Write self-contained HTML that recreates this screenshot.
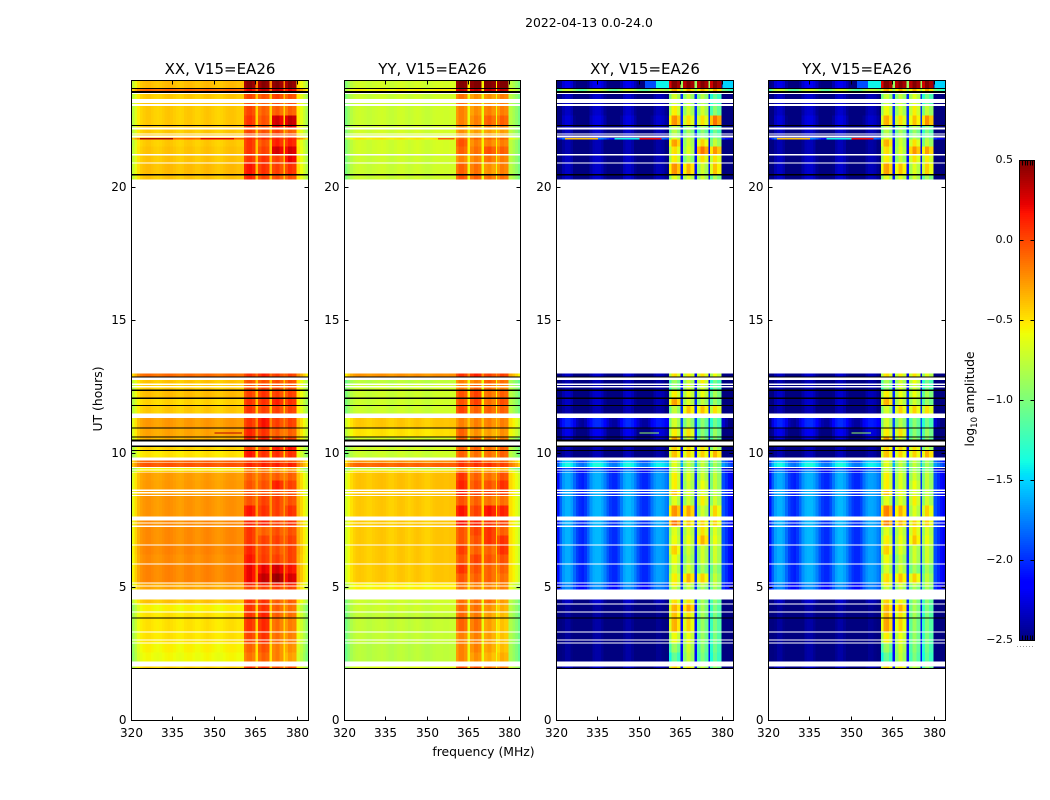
<!DOCTYPE html>
<html>
<head>
<meta charset="utf-8">
<title>2022-04-13 0.0-24.0</title>
<style>
html,body{margin:0;padding:0;background:#fff;}
svg{display:block;}
text{font-family:"DejaVu Sans","Liberation Sans",sans-serif;fill:#000;}
</style>
</head>
<body>
<svg id="fig" width="1050" height="800" viewBox="0 0 1050 800" xmlns="http://www.w3.org/2000/svg">
<rect x="0" y="0" width="1050" height="800" fill="#fff"/>
<text x="589" y="27" font-size="12.4" text-anchor="middle">2022-04-13 0.0-24.0</text>
<text x="0" y="0" font-size="12.4" text-anchor="middle" transform="translate(102,399) rotate(-90)">UT (hours)</text>
<text x="483.5" y="756" font-size="12.4" text-anchor="middle">frequency (MHz)</text>
<text x="0" y="0" font-size="12.2" text-anchor="middle" transform="translate(974,399) rotate(-90)">log<tspan font-size="8.5" dy="3">10</tspan><tspan dy="-3"> amplitude</tspan></text>
<g id="panels"></g>
<g id="colorbar"></g>
</svg>
<script>
var panelNames = ['XX, V15=EA26', 'YY, V15=EA26', 'XY, V15=EA26', 'YX, V15=EA26'];
var xTicks = [320, 335, 350, 365, 380];
var yTicks = [0, 5, 10, 15, 20];
var colorTicks = [0.5, 0.0, -0.5, -1.0, -1.5, -2.0, -2.5];

// frequency bin edges (MHz)
var freqEdges = [320,321,322,323,324,325,326,327,328,329,330,331,332,333,334,335,336,337,338,339,340,341,342,343,344,345,346,347,348,349,350,351,352,353,354,355,356,357,358,359,360,360.6,361.5,362.5,363.5,364.8,365.7,367,368.5,369.9,370.8,372,373.5,375,375.5,376.5,378,379.6,381,382,383,384];
// which level each frequency bin reads: 0 low band, 1 gap, 2-5 high bands
var binKinds = [0,0,0,0,0,0,0,0,0,0,0,0,0,0,0,0,0,0,0,0,0,0,0,0,0,0,0,0,0,0,0,0,0,0,0,0,0,0,0,0,0,2,2,2,2,1,3,3,3,1,4,4,4,1,5,5,5,0,0,0,0];

// spectral shape offsets (log10 amplitude) per polarisation
var xxShape = [-.35,-.22,-.1,-.03,0,.02,.02,0,-.02,-.03,-.02,0,.02,.03,.02,0,-.02,-.03,-.02,.01,.02,.02,0,-.02,-.02,0,.02,.03,.02,0,-.02,-.03,-.02,0,.02,.03,.03,.02,0,0,0,-.05,.02,.03,-.03,0,-.04,.04,0,0,0,.05,-.04,0,-.06,.04,0,-.1,-.2,-.3,-.42];
var yyShape = [-.28,-.16,-.07,-.02,.01,.02,.01,0,-.02,-.02,0,.01,.02,.03,.02,0,-.02,-.02,0,.02,.03,.02,0,-.02,0,.02,.03,.02,0,-.02,-.02,0,.02,.03,.03,.03,.02,.02,.03,.03,.03,-.06,.03,.03,-.03,0,-.04,.04,0,0,0,.04,-.04,0,-.06,.04,0,-.06,-.13,-.2,-.3];
var xyShape = [-.3,-.05,.12,.18,.18,.12,-.02,-.15,-.22,-.25,-.18,-.05,.1,.18,.2,.2,.15,.05,-.08,-.18,-.22,-.22,-.12,.02,.15,.2,.2,.15,.05,-.08,-.18,-.22,-.22,-.15,0,.1,.15,.15,.12,.05,0,-.25,.05,.08,-.1,0,-.15,.07,-.1,0,-.15,.07,-.1,0,-.2,.07,-.1,-.1,-.2,-.3,-.4];
var yxShape = [-.3,-.05,.12,.18,.18,.12,-.02,-.15,-.22,-.25,-.18,-.05,.1,.18,.2,.2,.15,.05,-.08,-.18,-.22,-.22,-.12,.02,.15,.2,.2,.15,.05,-.08,-.18,-.22,-.22,-.15,0,.1,.15,.15,.12,.05,0,-.25,.05,.08,-.1,0,-.15,.07,-.1,0,-.15,.07,-.1,0,-.2,.07,-.1,-.1,-.2,-.3,-.4];

// observation intervals [start hour, end hour]
var rowSpans = [
[24.00,23.70],[23.68,23.61],[23.49,23.31],[23.15,23.13],[23.05,22.69],[22.69,22.31],[22.29,22.23],[22.17,22.02],[21.98,21.93],[21.87,21.84],
[21.84,21.79],[21.79,21.53],[21.53,21.25],[21.18,20.93],[20.89,20.50],[20.44,20.29],[13.01,12.90],[12.76,12.63],[12.59,12.54],[12.49,12.41],
[12.36,12.11],[12.05,11.84],[11.80,11.51],[11.34,10.99],[10.95,10.65],[10.61,10.54],[10.25,10.14],[10.10,9.86],[9.75,9.68],[9.65,9.50],
[9.46,9.41],[9.38,9.32],[9.30,9.00],[9.00,8.66],[8.61,8.56],[8.52,8.45],[8.41,8.06],[8.06,7.65],[7.50,7.43],[7.39,7.32],
[7.25,6.94],[6.94,6.60],[6.56,6.22],[6.22,5.89],[5.85,5.51],[5.51,5.18],[5.14,5.06],[5.03,4.91],[4.54,4.38],[4.35,4.09],
[4.05,3.86],[3.83,3.34],[3.30,3.04],[3.00,2.93],[2.89,2.55],[2.55,2.21],[2.03,1.96]];

// flagged (black) intervals [start hour, end hour]
var flagSpans = [[23.72,23.68],[23.61,23.53],[22.33,22.29],[20.50,20.44],[12.90,12.87],[12.41,12.36],[12.11,12.05],[11.84,11.80],[10.99,10.95],[10.65,10.61],[10.54,10.46],[10.32,10.25],[10.14,10.10],[3.86,3.83],[1.96,1.93]];

// per interval levels: [low, gap, band1, band2, band3, band4]
var xxLevels = [
[-.38,-.2,.45,.45,.45,.45],[-.1,-.1,.2,.3,.3,.2],[-.42,-.4,0,-.05,0,-.05],[-.4,-.4,-.05,-.1,-.05,-.05],[-.42,-.45,0,-.1,-.1,-.1],[-.42,-.45,.05,-.05,.25,.3],[-.4,-.4,.05,-.05,.15,.2],[-.42,-.4,0,-.05,0,-.1],[-.4,-.4,0,0,0,0],[-.42,-.4,.05,0,.05,.05],
[-.05,-.1,.1,.1,.1,.1],[-.42,-.4,.05,-.05,.1,.1],[-.4,-.4,.05,0,.25,.25],[-.4,-.4,.05,.05,0,.2],[-.38,-.38,.15,.05,0,.05],[-.4,-.4,.1,0,-.05,-.05],[-.12,-.1,.05,.1,0,0],[-.4,-.4,-.05,-.05,-.05,-.05],[-.42,-.4,-.05,0,-.05,-.05],[-.42,-.4,-.05,0,-.05,-.05],
[-.38,-.38,0,.05,0,0],[-.45,-.4,.05,.05,.1,.05],[-.42,-.4,.05,0,0,0],[-.27,-.2,.05,.15,0,0],[-.3,-.2,.1,.05,-.1,-.1],[-.35,-.3,.1,.1,0,0],[-.45,-.4,0,-.05,.1,.15],[-.5,-.45,.15,.05,.05,.05],[-.1,-.05,0,.05,0,-.05],[-.05,0,.1,.1,.1,.1],
[-.55,-.5,-.2,-.2,-.3,-.3],[-.45,-.4,-.2,-.2,-.25,-.25],[-.28,-.25,-.1,-.1,-.1,-.1],[-.27,-.25,-.05,-.05,.1,0],[-.28,-.25,-.05,-.05,-.05,-.05],[-.28,-.25,-.05,-.05,-.05,-.05],[-.25,-.25,-.05,0,0,-.05],[-.25,-.25,.15,.05,0,.05],[-.22,-.2,.1,.1,0,.05],[-.22,-.2,.1,.1,0,.05],
[-.22,-.2,.05,-.1,-.05,-.05],[-.22,-.2,.05,0,0,0],[-.2,-.2,.1,0,-.05,0],[-.22,-.2,.15,.02,0,0],[-.2,-.2,.2,.2,.25,.15],[-.2,-.2,.2,.3,.4,.25],[-.3,-.3,.1,.1,.1,.1],[-.3,-.3,0,0,0,0],[-.4,-.35,.05,.05,-.1,-.1],[-.55,-.45,.05,.05,-.1,-.15],
[-.5,-.45,.05,.1,-.1,-.15],[-.5,-.45,.05,.08,-.15,-.2],[-.5,-.45,0,.05,-.15,-.2],[-.5,-.45,0,.05,-.15,-.2],[-.55,-.5,-.1,-.05,-.2,-.25],[-.58,-.5,-.15,-.1,-.2,-.3],[-.45,-.4,.05,.05,-.05,-.05]];

var yyLevels = [
[-.7,-.55,.5,.5,.5,.5],[-.55,-.5,.3,.3,.3,.3],[-.72,-.6,-.15,-.25,-.25,-.2],[-.72,-.6,-.15,-.25,-.25,-.2],[-.72,-.6,-.2,-.25,-.2,-.2],[-.72,-.6,-.2,-.2,-.1,-.1],[-.7,-.6,-.25,-.25,-.2,-.2],[-.7,-.6,-.25,-.3,-.3,-.3],[-.7,-.6,-.25,-.3,-.3,-.3],[-.7,-.6,-.25,-.3,-.3,-.3],
[-.5,-.5,-.1,-.1,-.1,-.1],[-.7,-.55,-.05,-.2,-.2,-.2],[-.7,-.55,-.1,-.15,-.05,-.1],[-.72,-.6,-.2,-.2,-.15,-.2],[-.72,-.6,-.1,-.15,-.25,-.2],[-.72,-.6,-.05,-.1,-.15,-.15],[-.25,-.2,.05,.1,0,0],[-.78,-.6,-.2,-.2,-.1,-.15],[-.72,-.6,-.2,-.1,-.15,-.2],[-.72,-.6,-.2,-.1,-.15,-.2],
[-.72,-.55,-.05,0,-.15,-.1],[-.72,-.55,-.05,0,-.15,-.05],[-.72,-.6,0,-.1,-.1,-.1],[-.42,-.4,-.2,-.2,-.2,-.2],[-.5,-.45,-.1,-.25,-.3,-.25],[-.7,-.6,-.1,-.15,-.2,-.2],[-.7,-.55,-.1,-.1,-.15,-.1],[-.72,-.6,-.1,-.15,-.15,-.1],[-.25,-.2,0,.05,-.1,-.1],[-.1,-.05,.05,.05,.05,0],
[-.8,-.6,-.3,-.4,-.4,-.4],[-.5,-.5,-.25,-.25,-.3,-.3],[-.4,-.4,.05,-.1,-.15,-.05],[-.4,-.4,.1,-.05,-.05,.05],[-.4,-.4,.1,0,0,0],[-.4,-.4,.1,0,0,0],[-.42,-.45,-.05,-.1,-.15,-.15],[-.42,-.45,.15,0,.15,.1],[-.42,-.4,.15,.1,.05,0],[-.42,-.4,.15,.1,.05,0],
[-.42,-.42,-.05,0,.05,-.1],[-.42,-.42,-.05,-.05,.05,.05],[-.42,-.42,.02,-.1,-.1,.05],[-.42,-.42,-.05,0,-.05,-.05],[-.42,-.42,.05,-.05,-.1,-.1],[-.42,-.42,-.05,-.1,-.1,-.15],[-.55,-.5,-.15,-.2,-.2,-.2],[-.55,-.5,-.15,-.2,-.2,-.2],[-.72,-.6,-.15,-.15,-.15,-.3],[-.72,-.6,-.12,-.15,-.25,-.35],
[-.75,-.6,-.12,-.18,-.3,-.4],[-.75,-.6,-.1,-.15,-.3,-.42],[-.75,-.6,-.2,-.2,-.3,-.42],[-.75,-.6,-.2,-.2,-.3,-.42],[-.78,-.6,-.2,-.2,-.3,-.4],[-.78,-.6,-.2,-.25,-.35,-.35],[-.65,-.55,-.05,-.05,-.15,-.2]];

var xyLevels = [
[-2.4,-.9,.5,.5,.5,.5],[-.9,-.9,-.4,-.4,-.4,-.4],[-2.5,-2,-.75,-.8,-.85,-1.15],[-2.5,-2,-.75,-.8,-.85,-1.15],[-2.5,-2,-.6,-.75,-.75,-1],[-2.45,-2,-.3,-.55,-.55,-.2],[-2.5,-2,-.8,-.9,-.9,-1.1],[-2.5,-2,-.85,-.9,-1,-1.1],[-2.5,-2,-.85,-.9,-1,-1.1],[-2.5,-2,-.85,-.9,-1,-1.1],
[-1.9,-2,-.7,-.8,-.8,-.9],[-2.55,-2.2,-.35,-.75,-.5,-.8],[-2.55,-2.2,-.55,-.7,-.2,-.3],[-2.5,-2.1,-.6,-.85,-.55,-.55],[-2.5,-2.1,-.3,-.4,-.75,-.45],[-2.5,-2.1,-.7,-.7,-.75,-.9],[-2.5,-2.2,-.55,-.6,-.55,-.65],[-2.55,-2.1,-.95,-.75,-.6,-1.1],[-2.55,-2.1,-1,-.75,-.75,-1.1],[-2.55,-2.1,-1,-.75,-.75,-1.1],
[-2.5,-2,-.6,-.65,-.65,-.9],[-2.5,-2,-.35,-.7,-.8,-.95],[-2.55,-2,-.8,-.45,-.45,-.55],[-2.2,-1.9,-.75,-.85,-1,-1.1],[-2.4,-2,-.6,-.55,-1,-.95],[-2.45,-2,-.35,-.75,-.95,-1],[-2.55,-2.2,-.5,-.5,-.55,-.8],[-2.55,-2.1,-.45,-.5,-.5,-.4],[-1.7,-1.7,-.7,-.8,-.8,-.9],[-1.55,-1.6,-.7,-.8,-.8,-.9],
[-2.1,-1.9,-.8,-.9,-.9,-1],[-1.9,-1.9,-.75,-.8,-.85,-.9],[-1.8,-2,-.6,-.7,-.75,-.8],[-1.8,-2,-.6,-.75,-.65,-.8],[-1.8,-2,-.45,-.7,-.7,-.8],[-1.8,-2,-.45,-.7,-.7,-.8],[-1.78,-2,-.7,-.75,-.6,-.75],[-1.78,-2,-.3,-.35,-.75,-.5],[-1.78,-2,-.2,-.45,-.5,-.5],[-1.78,-2,-.2,-.45,-.5,-.5],
[-1.78,-2,-.7,-.7,-.55,-.7],[-1.78,-2,-.65,-.65,-.4,-.65],[-1.8,-2,-.5,-.75,-.75,-.75],[-1.8,-2,-.65,-.8,-.75,-.75],[-1.8,-2,-.75,-.75,-.9,-.9],[-1.8,-2,-.6,-.4,-.5,-.8],[-1.9,-2,-.6,-.7,-.8,-.8],[-1.9,-2,-.8,-.8,-.9,-.9],[-2.5,-2,-.55,-.55,-.9,-1],[-2.6,-2.1,-.4,-.35,-.9,-1.05],
[-2.6,-2.1,-.45,-.55,-.9,-1.05],[-2.6,-2.1,-.4,-.5,-.95,-1.05],[-2.6,-2.1,-.65,-.65,-.95,-1.05],[-2.6,-2.1,-.65,-.65,-.95,-1.05],[-2.6,-2.1,-.95,-.75,-1,-1.1],[-2.6,-2.1,-1.15,-.8,-1.05,-1.15],[-2.5,-2.1,-.5,-.55,-.8,-.95]];

var yxLevels = [
[-2.4,-.9,.5,.5,.5,.5],[-.9,-.9,-.4,-.4,-.4,-.4],[-2.5,-2,-.8,-.8,-.7,-1.1],[-2.5,-2,-.8,-.8,-.7,-1.1],[-2.5,-2,-.65,-.75,-.6,-.8],[-2.45,-2,-.4,-.55,-.45,-.3],[-2.5,-2,-.8,-.9,-.85,-1],[-2.5,-2,-.85,-.9,-.95,-1.05],[-2.5,-2,-.85,-.9,-.95,-1.05],[-2.5,-2,-.85,-.9,-.95,-1.05],
[-1.9,-2,-.7,-.8,-.8,-.9],[-2.55,-2.2,-.4,-.75,-.55,-.8],[-2.55,-2.2,-.55,-.7,-.3,-.35],[-2.5,-2.1,-.6,-.8,-.55,-.6],[-2.5,-2.1,-.35,-.45,-.7,-.5],[-2.5,-2.1,-.7,-.7,-.75,-.9],[-2.5,-2.2,-.55,-.6,-.55,-.7],[-2.55,-2.1,-.9,-.75,-.65,-1.1],[-2.55,-2.1,-1,-.75,-.75,-1.1],[-2.55,-2.1,-1,-.75,-.75,-1.1],
[-2.5,-2,-.6,-.65,-.65,-.9],[-2.5,-2,-.4,-.7,-.75,-.95],[-2.55,-2,-.75,-.5,-.5,-.55],[-2.2,-1.9,-.75,-.85,-1,-1.1],[-2.4,-2,-.6,-.55,-1,-.95],[-2.45,-2,-.35,-.75,-.95,-1],[-2.55,-2.2,-.5,-.5,-.55,-.8],[-2.55,-2.1,-.45,-.5,-.5,-.4],[-1.7,-1.7,-.7,-.8,-.8,-.9],[-1.55,-1.6,-.7,-.8,-.8,-.9],
[-2.1,-1.9,-.8,-.9,-.9,-1],[-1.9,-1.9,-.75,-.8,-.85,-.9],[-1.8,-2,-.6,-.7,-.75,-.8],[-1.8,-2,-.6,-.7,-.65,-.8],[-1.8,-2,-.45,-.65,-.7,-.8],[-1.8,-2,-.45,-.65,-.7,-.8],[-1.78,-2,-.7,-.7,-.6,-.75],[-1.78,-2,-.25,-.4,-.7,-.5],[-1.78,-2,-.25,-.4,-.5,-.5],[-1.78,-2,-.25,-.4,-.5,-.5],
[-1.78,-2,-.7,-.7,-.55,-.7],[-1.78,-2,-.6,-.65,-.45,-.65],[-1.8,-2,-.5,-.7,-.75,-.75],[-1.8,-2,-.65,-.8,-.75,-.75],[-1.8,-2,-.75,-.75,-.9,-.9],[-1.8,-2,-.55,-.45,-.5,-.8],[-1.9,-2,-.6,-.7,-.8,-.8],[-1.9,-2,-.8,-.8,-.9,-.9],[-2.5,-2,-.5,-.6,-.9,-1],[-2.6,-2.1,-.4,-.4,-.9,-1.05],
[-2.6,-2.1,-.4,-.55,-.9,-1.05],[-2.6,-2.1,-.35,-.5,-.95,-1.05],[-2.6,-2.1,-.6,-.65,-.95,-1.05],[-2.6,-2.1,-.6,-.65,-.95,-1.05],[-2.6,-2.1,-.95,-.75,-1,-1.1],[-2.6,-2.1,-1.15,-.8,-1.05,-1.15],[-2.5,-2.1,-.5,-.55,-.8,-.95]];

// narrow interference segments: [panel index, start hour, end hour, start MHz, end MHz, value]
var rfiSegments = [
[0,21.84,21.79,323,335,.38],[0,21.84,21.79,345,357,.25],[0,10.80,10.76,350,360,.35],
[1,21.84,21.79,354,360,-.05],
[2,21.84,21.79,323,335,-.4],[2,21.84,21.79,341,350,-1.4],[2,21.84,21.79,350,358,.2],[2,10.80,10.76,350,357,-.9],
[3,21.84,21.79,323,335,-.4],[3,21.84,21.79,341,350,-1.4],[3,21.84,21.79,350,358,.2],[3,10.80,10.76,350,357,-.9],
[2,24,23.7,352,356,-1.9],[2,24,23.7,356,360.6,-1.4],[2,24,23.7,380,384,-1.5],
[3,24,23.7,352,356,-1.9],[3,24,23.7,356,360.6,-1.4],[3,24,23.7,380,384,-1.5]];

var shapes = [xxShape, yyShape, xyShape, yxShape];
var levels = [xxLevels, yyLevels, xyLevels, yxLevels];
var panelBoxes = [[131.5,308.5],[344.5,520.5],[556.5,733.5],[768.5,945.5]];
var NS = 'http://www.w3.org/2000/svg';
var plotTop = 80.5, plotBottom = 720.5;
var hourMax = 24, hourMin = 0, freqMin = 320, freqMax = 384;
var colorMin = -2.5, colorMax = 0.5;

function yScale(h){ return plotBottom - (h - hourMin) / (hourMax - hourMin) * (plotBottom - plotTop); }
function xScale(p, f){ var b = panelBoxes[p]; return b[0] + (f - freqMin) / (freqMax - freqMin) * (b[1] - b[0]); }
function interp(x, pts){
  for (var i = 1; i < pts.length; i++) {
    if (x <= pts[i][0]) {
      var a = pts[i-1], b = pts[i];
      return a[1] + (b[1]-a[1]) * (x-a[0]) / (b[0]-a[0]);
    }
  }
  return pts[pts.length-1][1];
}
var jetR = [[0,0],[.35,0],[.66,1],[.89,1],[1,.5]];
var jetG = [[0,0],[.125,0],[.375,1],[.64,1],[.91,0],[1,0]];
var jetB = [[0,.5],[.11,1],[.34,1],[.65,0],[1,0]];
function colorScale(v){
  var t = Math.max(0, Math.min(1, (v - colorMin) / (colorMax - colorMin)));
  return 'rgb(' + Math.round(255*interp(t,jetR)) + ',' + Math.round(255*interp(t,jetG)) + ',' + Math.round(255*interp(t,jetB)) + ')';
}
function make(tag, attrs, parent){
  var el = document.createElementNS(NS, tag);
  for (var k in attrs) el.setAttribute(k, attrs[k]);
  parent.appendChild(el);
  return el;
}

var panelsRoot = document.getElementById('panels');
panelNames.forEach(function(title, p){
  var g = make('g', {}, panelsRoot);
  
  
  var heat = make('g', {'shape-rendering':'crispEdges'}, g);
  
  

  rowSpans.forEach(function(span, r){
    var y0 = yScale(span[0]), y1 = yScale(span[1]);
    for (var c = 0; c < binKinds.length; c++) {
      var v = levels[p][r][binKinds[c]] + shapes[p][c];
      var x0 = xScale(p, freqEdges[c]), x1 = xScale(p, freqEdges[c+1]);
      var cell = make('rect', {x:x0.toFixed(2), y:y0.toFixed(2), width:(x1-x0).toFixed(2), height:Math.max(1,y1-y0).toFixed(2), fill:colorScale(v)}, heat);
      
      
    }
  });

  rfiSegments.forEach(function(s){
    if (s[0] !== p) return;
    var x0 = xScale(p, s[3]), x1 = xScale(p, s[4]), y0 = yScale(s[1]), y1 = yScale(s[2]);
    var seg = make('rect', {x:x0.toFixed(2), y:y0.toFixed(2), width:(x1-x0).toFixed(2), height:Math.max(1,y1-y0).toFixed(2), fill:colorScale(s[5])}, heat);
    
    
  });

  flagSpans.forEach(function(span){
    var y0 = yScale(span[0]), y1 = yScale(span[1]);
    var bar = make('rect', {x:panelBoxes[p][0], y:y0.toFixed(2), width:panelBoxes[p][1]-panelBoxes[p][0], height:Math.max(1,y1-y0).toFixed(2), fill:'#000'}, heat);
    
    
  });

  var box = panelBoxes[p];
  var frame = make('rect', {x:box[0], y:plotTop, width:box[1]-box[0], height:plotBottom-plotTop, fill:'none', stroke:'#000', 'stroke-width':1}, g);
  
  

  var titleEl = make('text', {x:(box[0]+box[1])/2, y:74, 'font-size':15, 'text-anchor':'middle'}, g);
  titleEl.textContent = title;
  
  

  xTicks.forEach(function(t){
    var x = Math.round(xScale(p, t) - .5) + .5;
    var tb = make('line', {x1:x, x2:x, y1:plotBottom, y2:plotBottom-4, stroke:'#000', 'stroke-width':1}, g);
    
    
    var tt = make('line', {x1:x, x2:x, y1:plotTop, y2:plotTop+4, stroke:'#000', 'stroke-width':1}, g);
    
    
    var lab = make('text', {x:x, y:737, 'font-size':12, 'text-anchor':'middle'}, g);
    lab.textContent = String(t);
    
    
  });

  yTicks.forEach(function(t){
    var y = Math.round(yScale(t) - .5) + .5;
    var tl = make('line', {x1:box[0], x2:box[0]+4, y1:y, y2:y, stroke:'#000', 'stroke-width':1}, g);
    
    
    var tr = make('line', {x1:box[1], x2:box[1]-4, y1:y, y2:y, stroke:'#000', 'stroke-width':1}, g);
    
    
    var lab = make('text', {x:box[0]-5, y:y+3.5, 'font-size':12, 'text-anchor':'end'}, g);
    lab.textContent = String(t);
    
    
  });
});

// colorbar
var cbRoot = document.getElementById('colorbar');
var cbX0 = 1019.5, cbX1 = 1034.5, cbTop = 160.5, cbBottom = 640.5;
function cbScale(v){ return cbBottom - (v - colorMin) / (colorMax - colorMin) * (cbBottom - cbTop); }
var cbSteps = 240;
for (var i = 0; i < cbSteps; i++) {
  var vLow = colorMin + (colorMax - colorMin) * i / cbSteps;
  var vHigh = colorMin + (colorMax - colorMin) * (i + 1) / cbSteps;
  var strip = make('rect', {x:cbX0, y:cbScale(vHigh).toFixed(2), width:cbX1-cbX0, height:(cbScale(vLow)-cbScale(vHigh)+.3).toFixed(2), fill:colorScale((vLow+vHigh)/2), 'shape-rendering':'crispEdges'}, cbRoot);
  
  
}
var cbFrame = make('rect', {x:cbX0, y:cbTop, width:cbX1-cbX0, height:cbBottom-cbTop, fill:'none', stroke:'#000', 'stroke-width':1}, cbRoot);


colorTicks.forEach(function(t){
  var y = Math.round(cbScale(t) - .5) + .5;
  var a = make('line', {x1:cbX0, x2:cbX0+4, y1:y, y2:y, stroke:'#000', 'stroke-width':1}, cbRoot);
  
  
  var b = make('line', {x1:cbX1, x2:cbX1-4, y1:y, y2:y, stroke:'#000', 'stroke-width':1}, cbRoot);
  
  
  var lab = make('text', {x:1013, y:y+2.5, 'font-size':11, 'text-anchor':'end'}, cbRoot);
  lab.textContent = t.toFixed(1).replace('-', '\u2212');
  
  
});
[1022.5, 1025.5, 1027.5, 1030.5, 1032.5].forEach(function(x){
  var top = make('line', {x1:x, x2:x, y1:cbTop, y2:cbTop+5, stroke:'#000', 'stroke-width':1}, cbRoot);
  
  
  var bot = make('line', {x1:x, x2:x, y1:cbBottom, y2:cbBottom-5, stroke:'#000', 'stroke-width':1}, cbRoot);
  
  
});
var dots = make('line', {x1:1017, x2:1035, y1:646.5, y2:646.5, stroke:'#999', 'stroke-width':1, 'stroke-dasharray':'1 2'}, cbRoot);


</script>
</body>
</html>
